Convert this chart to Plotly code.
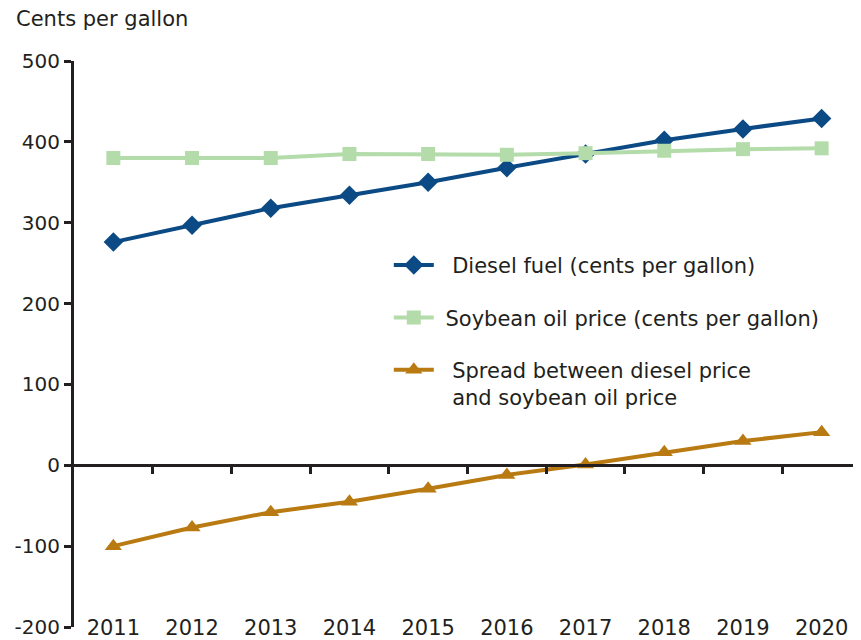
import plotly.graph_objects as go

# values
years = [2011, 2012, 2013, 2014, 2015, 2016, 2017, 2018, 2019, 2020]
diesel = [276, 297, 318, 334, 350, 368, 385, 402, 416, 429]
soybean = [380, 380, 380, 385, 385, 384, 386, 389, 391, 392]
spread = [-100, -77, -58, -45, -29, -12, 1, 16, 30, 41]

y_ticks = [500, 400, 300, 200, 100, 0, -100, -200]
y_labels = ["500", "400", "300", "200", "100", "0", "-100", "-200"]
x_labels = [str(y) for y in years]

FONT = "DejaVu Sans, Liberation Sans, Arial, sans-serif"
INK = "#231f20"
NB = "\u00a0"

fig = go.Figure()

fig.add_trace(go.Scatter(
    x=years, y=diesel, name=NB * 2 + "Diesel fuel (cents per gallon)",
    mode="lines+markers", legendgroup="a",
    line=dict(color="#0b4a84", width=4),
    marker=dict(symbol="diamond", size=15, color="#0b4a84"),
))
fig.add_trace(go.Scatter(
    x=years, y=soybean, name=NB + "Soybean oil price (cents per gallon)",
    mode="lines+markers", legendgroup="b",
    line=dict(color="#b3dcaa", width=4),
    marker=dict(symbol="square", size=14, color="#b3dcaa"),
))
fig.add_trace(go.Scatter(
    x=years, y=spread,
    name=NB * 2 + "Spread between diesel price<br>" + NB * 2 + "and soybean oil price",
    mode="lines+markers", legendgroup="c",
    line=dict(color="#b97a12", width=4),
    marker=dict(symbol="triangle-up", size=15, color="#b97a12"),
))

# invisible trace so the zero-line axis (xaxis2) gets drawn
fig.add_trace(go.Scatter(x=[years[0]], y=[0], xaxis="x2", showlegend=False,
                         hoverinfo="skip", mode="markers",
                         marker=dict(opacity=0)))

xr = [years[0] - 0.5, years[-1] + 0.5]

# page body has an 8px margin, so the figure is sized/offset to compensate
fig.update_layout(
    width=853, height=632,
    margin=dict(l=66, r=0, t=53, b=13),
    paper_bgcolor="white", plot_bgcolor="white",
    font=dict(family=FONT, size=20, color=INK),
    title=dict(text="Cents per gallon", x=8 / 853, xanchor="left",
               y=1 - 11 / 632, yanchor="middle", font=dict(size=21, color=INK)),
    showlegend=True,
    legend=dict(x=0.40, y=0.675, xanchor="left", yanchor="top",
                bgcolor="rgba(0,0,0,0)", tracegroupgap=22, valign="top",
                font=dict(size=21, color=INK), itemwidth=40),
    xaxis=dict(range=xr, tickmode="array", tickvals=years, ticktext=x_labels,
               showline=False, showgrid=False, zeroline=False, ticks="",
               anchor="free", position=0.024, tickfont=dict(size=21)),
    xaxis2=dict(range=xr, overlaying="x", anchor="free", position=200 / 700,
                tickmode="array", tickvals=[y + 0.5 for y in years[:-1]],
                showticklabels=False, ticks="outside", ticklen=7, tickwidth=3,
                tickcolor=INK, showline=True, linecolor=INK, linewidth=3,
                showgrid=False, zeroline=False),
    yaxis=dict(range=[-200, 500], tickmode="array", tickvals=y_ticks,
               ticktext=y_labels, showline=True, linecolor=INK, linewidth=3,
               ticks="outside", ticklen=7, tickwidth=3, tickcolor=INK,
               showgrid=False, zeroline=False, tickfont=dict(size=20)),
)

fig.write_html("out.html")
